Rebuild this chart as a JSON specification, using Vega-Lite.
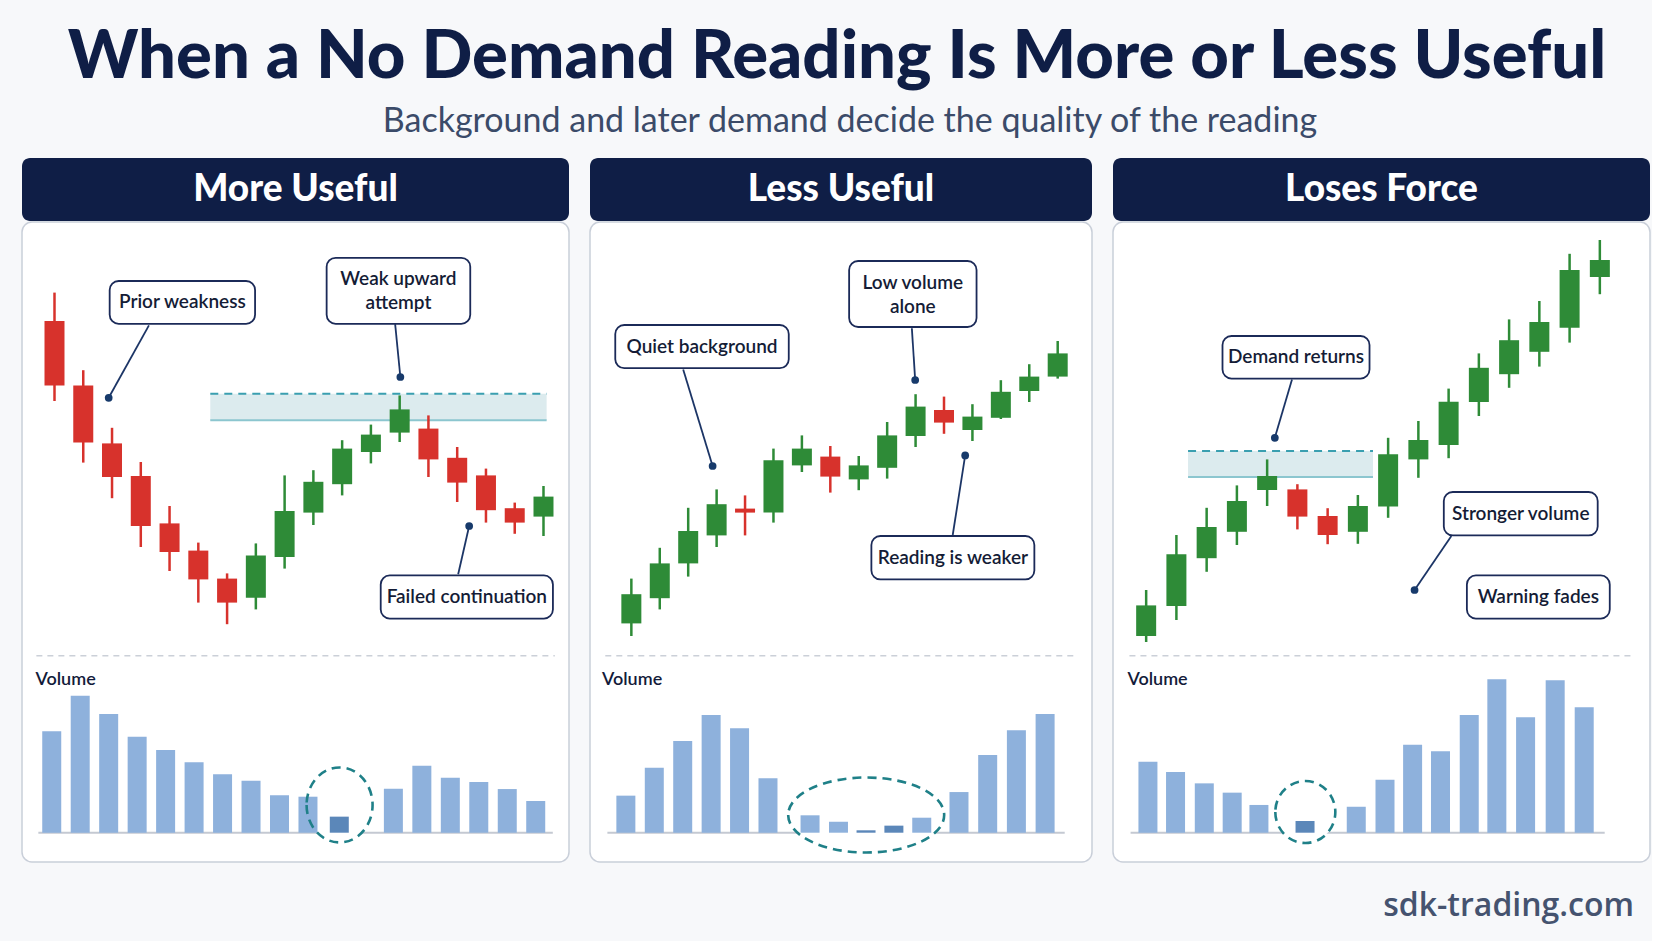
{
"$schema": "https://vega.github.io/schema/vega-lite/v6.json",
"background": "#f7f8fa",
"padding": {"left": 21, "top": 0, "right": 0, "bottom": 0},
"config": {"view": {"stroke": null}},
"datasets": {
  "c1": [
    {"i":0,"o":120,"h":127.1,"l":100,"c":103.9},
    {"i":1,"o":103.9,"h":107.7,"l":84.6,"c":89.6},
    {"i":2,"o":89.4,"h":93.3,"l":75.7,"c":81},
    {"i":3,"o":81.25,"h":84.75,"l":63.5,"c":68.75},
    {"i":4,"o":69.4,"h":73.75,"l":57.5,"c":62.25},
    {"i":5,"o":62.6,"h":64.6,"l":49.6,"c":55.4},
    {"i":6,"o":55.6,"h":56.9,"l":44.2,"c":49.6},
    {"i":7,"o":50.8,"h":64.4,"l":47.9,"c":61.4},
    {"i":8,"o":61,"h":81.4,"l":58.1,"c":72.5},
    {"i":9,"o":72.1,"h":82.7,"l":69,"c":79.8},
    {"i":10,"o":79.2,"h":90.2,"l":76.4,"c":88.1},
    {"i":11,"o":87.25,"h":94.1,"l":84.4,"c":91.6},
    {"i":12,"o":92.1,"h":101.4,"l":89.75,"c":97.9},
    {"i":13,"o":93.1,"h":96.4,"l":81,"c":85.4},
    {"i":14,"o":85.8,"h":88.5,"l":74.75,"c":79.6},
    {"i":15,"o":81.4,"h":83.1,"l":69.6,"c":72.7},
    {"i":16,"o":73.2,"h":74.6,"l":66.8,"c":69.6},
    {"i":17,"o":71.1,"h":78.75,"l":66.25,"c":76.1}
  ],
  "n1": [
    {"note":"Prior weakness","bx1":1.918,"bx2":6.973,"by1":130,"by2":119.3,"tx":4.445,"ty":124.65,"lx":3.283,"ly":118.9,"px":1.884,"py":100.8},
    {"note":"Weak upward\nattempt","bx1":9.461,"bx2":14.454,"by1":135.8,"by2":119.3,"tx":11.957,"ty":130.4,"lx":11.843,"ly":119.2,"px":12.024,"py":106},
    {"note":"Failed continuation","bx1":11.341,"bx2":17.328,"by1":56.4,"by2":45.6,"tx":14.334,"ty":51,"lx":14.034,"ly":56.7,"px":14.416,"py":68.75}
  ],
  "z1": [{"x1":5.416,"x2":17.109,"top":101.8,"bottom":95.2}],
  "v1": [
    {"k":0,"v":67.6},{"k":1,"v":91.3},{"k":2,"v":79.1},{"k":3,"v":64},{"k":4,"v":55.1},
    {"k":5,"v":46.9},{"k":6,"v":38.9},{"k":7,"v":34.7},{"k":8,"v":24.9},{"k":9,"v":24},
    {"k":10.1,"v":10.7,"nd":true},{"k":12,"v":29.3},{"k":13,"v":44.7},{"k":14,"v":36.7},
    {"k":15,"v":33.8},{"k":16,"v":29.1},{"k":17,"v":21.1}
  ],
  "c2": [
    {"i":0,"o":44.4,"h":55.6,"l":41.25,"c":51.7},
    {"i":1,"o":50.7,"h":63.3,"l":47.9,"c":59.4},
    {"i":2,"o":59.4,"h":73.3,"l":56.1,"c":67.5},
    {"i":3,"o":66.4,"h":77.9,"l":63.5,"c":74.2},
    {"i":4,"o":73.1,"h":76.4,"l":66.4,"c":72.1},
    {"i":5,"o":72.1,"h":88.1,"l":69.6,"c":85.2},
    {"i":6,"o":83.9,"h":91.4,"l":82.25,"c":88.1},
    {"i":7,"o":86.1,"h":88.75,"l":77.1,"c":81.1},
    {"i":8,"o":80.4,"h":86.25,"l":77.7,"c":83.9},
    {"i":9,"o":83.3,"h":94.75,"l":80.6,"c":91.4},
    {"i":10,"o":91.25,"h":101.7,"l":88.5,"c":98.6},
    {"i":11,"o":97.75,"h":101.1,"l":91.8,"c":94.6},
    {"i":12,"o":92.75,"h":99.2,"l":90,"c":96.1},
    {"i":13,"o":95.8,"h":105.2,"l":95.5,"c":102.3},
    {"i":14,"o":102.5,"h":109.2,"l":99.75,"c":106.1},
    {"i":15,"o":106.1,"h":115,"l":105.6,"c":111.9}
  ],
  "n2": [
    {"note":"Quiet background","bx1":-0.566,"bx2":5.538,"by1":119,"by2":108.2,"tx":2.486,"ty":113.6,"lx":1.824,"ly":107.9,"px":2.859,"py":83.75},
    {"note":"Low volume\nalone","bx1":7.662,"bx2":12.145,"by1":135,"by2":118.5,"tx":9.903,"ty":129.6,"lx":9.869,"ly":118.2,"px":9.986,"py":105.25},
    {"note":"Reading is weaker","bx1":8.445,"bx2":14.179,"by1":66.25,"by2":55.4,"tx":11.312,"ty":60.8,"lx":11.307,"ly":66.5,"px":11.745,"py":86.4}
  ],
  "v2": [
    {"k":0,"v":24.7},{"k":1,"v":43.3},{"k":2,"v":61.1},{"k":3,"v":78.5},{"k":4,"v":69.6},
    {"k":5,"v":36.3},{"k":6.48,"v":11.6},{"k":7.48,"v":7.3},{"k":8.45,"v":1.6,"nd":true},
    {"k":9.43,"v":4.7,"nd":true},{"k":10.41,"v":10},{"k":11.72,"v":27.1},{"k":12.73,"v":51.8},
    {"k":13.74,"v":68.3},{"k":14.75,"v":79.1}
  ],
  "c3": [
    {"i":0,"o":41.25,"h":52.75,"l":39.75,"c":48.9},
    {"i":1,"o":48.75,"h":66.5,"l":45.25,"c":61.7},
    {"i":2,"o":60.7,"h":73.3,"l":57.3,"c":68.5},
    {"i":3,"o":67.3,"h":78.9,"l":64,"c":75},
    {"i":4,"o":77.75,"h":85.4,"l":73.75,"c":81.25},
    {"i":5,"o":77.9,"h":79.2,"l":67.9,"c":71.1},
    {"i":6,"o":71.25,"h":73.2,"l":64.2,"c":66.5},
    {"i":7,"o":67.3,"h":76.5,"l":64.3,"c":73.75},
    {"i":8,"o":73.6,"h":90.8,"l":70.8,"c":86.7},
    {"i":9,"o":85.4,"h":95,"l":80.8,"c":90.25},
    {"i":10,"o":89,"h":103.1,"l":85.7,"c":99.8},
    {"i":11,"o":99.75,"h":111.9,"l":96.25,"c":108.3},
    {"i":12,"o":106.7,"h":120.4,"l":103.3,"c":115.2},
    {"i":13,"o":112.3,"h":125,"l":108.6,"c":119.75},
    {"i":14,"o":118.3,"h":136.8,"l":114.6,"c":132.75},
    {"i":15,"o":131,"h":140.25,"l":126.7,"c":135.25}
  ],
  "n3": [
    {"note":"Demand returns","bx1":2.524,"bx2":7.385,"by1":116.25,"by2":105.6,"tx":4.955,"ty":110.9,"lx":4.822,"ly":105.4,"px":4.254,"py":90.8},
    {"note":"Stronger volume","bx1":9.841,"bx2":14.929,"by1":77.25,"by2":66.4,"tx":12.385,"ty":71.8,"lx":10.091,"ly":66.25,"px":8.874,"py":52.75},
    {"note":"Warning fades","bx1":10.604,"bx2":15.328,"by1":56.4,"by2":45.6,"tx":12.966,"ty":51,"lx":null,"ly":null,"px":null,"py":null}
  ],
  "z3": [{"x1":1.385,"x2":7.5,"top":87.5,"bottom":81}],
  "v3": [
    {"k":0,"v":47.3},{"k":0.97,"v":40.5},{"k":1.98,"v":32.9},{"k":2.96,"v":26.7},{"k":3.9,"v":18.5},
    {"k":5.52,"v":7.8,"nd":true},{"k":7.32,"v":17.3},{"k":8.33,"v":35.3},{"k":9.3,"v":58.7},
    {"k":10.28,"v":54.3},{"k":11.29,"v":78.5},{"k":12.26,"v":102.3},{"k":13.27,"v":76.9},
    {"k":14.31,"v":101.6},{"k":15.33,"v":83.6}
  ]
},
"spacing": 0,
"vconcat": [
 {
  "width": 1630, "height": 158,
  "layer": [
   {"data": {"values": [{"t": "When a No Demand Reading Is More or Less Useful"}]},
    "mark": {"type": "text", "font": "Lato", "fontSize": 67, "fontWeight": 900, "color": "#0f1e46", "baseline": "alphabetic", "dy": -1},
    "encoding": {"text": {"field": "t"}}},
   {"data": {"values": [{"t": "Background and later demand decide the quality of the reading"}]},
    "mark": {"type": "text", "font": "Lato", "fontSize": 34, "fontWeight": 400, "color": "#3b4b69", "baseline": "alphabetic", "dy": 53, "dx": 13},
    "encoding": {"text": {"field": "t"}}}
  ]
 },
 {
  "spacing": 19,
  "hconcat": [
   {
    "spacing": 0,
    "vconcat": [
     {
      "width": 547, "height": 63,
      "view": {"fill": "#0f1e46", "stroke": null, "cornerRadius": 8},
      "data": {"values": [{"panel": "More Useful"}]},
      "mark": {"type": "text", "font": "Lato", "fontSize": 37, "fontWeight": 900, "color": "white", "baseline": "middle"},
      "encoding": {"text": {"field": "panel"}}
     },
     {
      "width": 547, "height": 640,
      "view": {"fill": "white", "stroke": "#c9cfd9", "strokeWidth": 1.5, "cornerRadius": 10},
      "resolve": {"scale": {"x": "independent", "y": "independent"}},
      "layer": [
       {
        "layer": [
         {"data": {"name": "z1"}, "mark": {"type": "rect", "color": "#dcebee", "opacity": 1},
          "encoding": {"x": {"field": "x1", "type": "quantitative", "scale": {"domain": [-0.956, 17.713], "nice": false, "zero": false}, "axis": null}, "x2": {"field": "x2"},
                       "y": {"field": "top", "type": "quantitative", "scale": {"domain": [-15.25, 144.75], "nice": false, "zero": false}, "axis": null}, "y2": {"field": "bottom"}}},
         {"data": {"name": "z1"}, "mark": {"type": "rule", "color": "#3a9fb0", "strokeWidth": 2, "strokeDash": [8, 6]},
          "encoding": {"x": {"field": "x1", "type": "quantitative", "scale": {"domain": [-0.956, 17.713], "nice": false, "zero": false}, "axis": null}, "x2": {"field": "x2"},
                       "y": {"field": "top", "type": "quantitative", "scale": {"domain": [-15.25, 144.75], "nice": false, "zero": false}, "axis": null}}},
         {"data": {"name": "z1"}, "mark": {"type": "rule", "color": "#8cc6cf", "strokeWidth": 2},
          "encoding": {"x": {"field": "x1", "type": "quantitative", "scale": {"domain": [-0.956, 17.713], "nice": false, "zero": false}, "axis": null}, "x2": {"field": "x2"},
                       "y": {"field": "bottom", "type": "quantitative", "scale": {"domain": [-15.25, 144.75], "nice": false, "zero": false}, "axis": null}}},
         {"data": {"name": "c1"}, "mark": {"type": "rule", "strokeWidth": 2.5},
          "encoding": {"x": {"field": "i", "type": "quantitative", "scale": {"domain": [-0.956, 17.713], "nice": false, "zero": false}, "axis": null},
                       "y": {"field": "l", "type": "quantitative", "scale": {"domain": [-15.25, 144.75], "nice": false, "zero": false}, "axis": null}, "y2": {"field": "h"},
                       "color": {"condition": {"test": "datum.c < datum.o", "value": "#d7322c"}, "value": "#2e8b37"}}},
         {"data": {"name": "c1"}, "mark": {"type": "bar", "width": 20},
          "encoding": {"x": {"field": "i", "type": "quantitative", "scale": {"domain": [-0.956, 17.713], "nice": false, "zero": false}, "axis": null},
                       "y": {"field": "o", "type": "quantitative", "scale": {"domain": [-15.25, 144.75], "nice": false, "zero": false}, "axis": null}, "y2": {"field": "c"},
                       "color": {"condition": {"test": "datum.c < datum.o", "value": "#d7322c"}, "value": "#2e8b37"}}},
         {"data": {"name": "n1"}, "mark": {"type": "rule", "color": "#1c3566", "strokeWidth": 1.8},
          "encoding": {"x": {"field": "lx", "type": "quantitative", "scale": {"domain": [-0.956, 17.713], "nice": false, "zero": false}, "axis": null}, "x2": {"field": "px"},
                       "y": {"field": "ly", "type": "quantitative", "scale": {"domain": [-15.25, 144.75], "nice": false, "zero": false}, "axis": null}, "y2": {"field": "py"}}},
         {"data": {"name": "n1"}, "mark": {"type": "point", "filled": true, "color": "#173a6b", "size": 60, "opacity": 1},
          "encoding": {"x": {"field": "px", "type": "quantitative", "scale": {"domain": [-0.956, 17.713], "nice": false, "zero": false}, "axis": null},
                       "y": {"field": "py", "type": "quantitative", "scale": {"domain": [-15.25, 144.75], "nice": false, "zero": false}, "axis": null}}},
         {"data": {"name": "n1"}, "mark": {"type": "rect", "fill": "white", "stroke": "#1b2a58", "strokeWidth": 1.8, "cornerRadius": 9},
          "encoding": {"x": {"field": "bx1", "type": "quantitative", "scale": {"domain": [-0.956, 17.713], "nice": false, "zero": false}, "axis": null}, "x2": {"field": "bx2"},
                       "y": {"field": "by1", "type": "quantitative", "scale": {"domain": [-15.25, 144.75], "nice": false, "zero": false}, "axis": null}, "y2": {"field": "by2"}}},
         {"data": {"name": "n1"}, "mark": {"type": "text", "font": "Lato", "fontSize": 19, "fontWeight": 600, "color": "#141c36", "align": "center", "baseline": "middle", "lineBreak": "\n", "lineHeight": 24},
          "encoding": {"x": {"field": "tx", "type": "quantitative", "scale": {"domain": [-0.956, 17.713], "nice": false, "zero": false}, "axis": null},
                       "y": {"field": "ty", "type": "quantitative", "scale": {"domain": [-15.25, 144.75], "nice": false, "zero": false}, "axis": null},
                       "text": {"field": "note"}}}
        ]
       },
       {
        "layer": [
         {"data": {"values": [{}]}, "mark": {"type": "rule", "color": "#cbd0d8", "strokeWidth": 1.5, "strokeDash": [6, 5]},
          "encoding": {"x": {"datum": -0.54, "type": "quantitative", "scale": {"domain": [-0.869, 17.993], "nice": false, "zero": false}, "axis": null}, "x2": {"datum": 17.67},
                       "y": {"datum": 118, "type": "quantitative", "scale": {"domain": [-19.53, 407.13], "nice": false, "zero": false}, "axis": null}}},
         {"data": {"values": [{"label": "Volume"}]}, "mark": {"type": "text", "align": "left", "baseline": "middle", "font": "Lato", "fontSize": 18, "fontWeight": 600, "color": "#131b3a"},
          "encoding": {"x": {"datum": -0.57, "type": "quantitative", "scale": {"domain": [-0.869, 17.993], "nice": false, "zero": false}, "axis": null},
                       "y": {"datum": 102, "type": "quantitative", "scale": {"domain": [-19.53, 407.13], "nice": false, "zero": false}, "axis": null},
                       "text": {"field": "label"}}},
         {"data": {"values": [{}]}, "mark": {"type": "rule", "color": "#c4c9d2", "strokeWidth": 2},
          "encoding": {"x": {"datum": -0.47, "type": "quantitative", "scale": {"domain": [-0.869, 17.993], "nice": false, "zero": false}, "axis": null}, "x2": {"datum": 17.6},
                       "y": {"datum": 0, "type": "quantitative", "scale": {"domain": [-19.53, 407.13], "nice": false, "zero": false}, "axis": null}}},
         {"data": {"values": [{}]}, "mark": {"type": "point", "shape": "M-0.88,0A0.88,1 0 1,0 0.88,0A0.88,1 0 1,0 -0.88,0Z", "size": 5625, "filled": true, "color": "white", "opacity": 1},
          "encoding": {"x": {"datum": 10.11, "type": "quantitative", "scale": {"domain": [-0.869, 17.993], "nice": false, "zero": false}, "axis": null},
                       "y": {"datum": 18.5, "type": "quantitative", "scale": {"domain": [-19.53, 407.13], "nice": false, "zero": false}, "axis": null}}},
         {"data": {"name": "v1"}, "mark": {"type": "bar", "width": 19},
          "encoding": {"x": {"field": "k", "type": "quantitative", "scale": {"domain": [-0.869, 17.993], "nice": false, "zero": false}, "axis": null},
                       "y": {"field": "v", "type": "quantitative", "scale": {"domain": [-19.53, 407.13], "nice": false, "zero": false}, "axis": null}, "y2": {"datum": 0},
                       "color": {"condition": {"test": "datum.nd", "value": "#5b87b9"}, "value": "#8eb1dc"}}},
         {"data": {"values": [{}]}, "mark": {"type": "point", "shape": "M-0.88,0A0.88,1 0 1,0 0.88,0A0.88,1 0 1,0 -0.88,0Z", "size": 5625, "filled": false, "color": "#1f8088", "strokeWidth": 2.6, "strokeDash": [9, 6], "opacity": 1},
          "encoding": {"x": {"datum": 10.11, "type": "quantitative", "scale": {"domain": [-0.869, 17.993], "nice": false, "zero": false}, "axis": null},
                       "y": {"datum": 18.5, "type": "quantitative", "scale": {"domain": [-19.53, 407.13], "nice": false, "zero": false}, "axis": null}}}
        ]
       }
      ]
     }
    ]
   },
   {
    "spacing": 0,
    "vconcat": [
     {
      "width": 502, "height": 63,
      "view": {"fill": "#0f1e46", "stroke": null, "cornerRadius": 8},
      "data": {"values": [{"panel": "Less Useful"}]},
      "mark": {"type": "text", "font": "Lato", "fontSize": 37, "fontWeight": 900, "color": "white", "baseline": "middle"},
      "encoding": {"text": {"field": "panel"}}
     },
     {
      "width": 502, "height": 640,
      "view": {"fill": "white", "stroke": "#c9cfd9", "strokeWidth": 1.5, "cornerRadius": 10},
      "resolve": {"scale": {"x": "independent", "y": "independent"}},
      "layer": [
       {
        "layer": [
         {"data": {"name": "c2"}, "mark": {"type": "rule", "strokeWidth": 2.5},
          "encoding": {"x": {"field": "i", "type": "quantitative", "scale": {"domain": [-1.279, 16.031], "nice": false, "zero": false}, "axis": null},
                       "y": {"field": "l", "type": "quantitative", "scale": {"domain": [-15.25, 144.75], "nice": false, "zero": false}, "axis": null}, "y2": {"field": "h"},
                       "color": {"condition": {"test": "datum.c < datum.o", "value": "#d7322c"}, "value": "#2e8b37"}}},
         {"data": {"name": "c2"}, "mark": {"type": "bar", "width": 20},
          "encoding": {"x": {"field": "i", "type": "quantitative", "scale": {"domain": [-1.279, 16.031], "nice": false, "zero": false}, "axis": null},
                       "y": {"field": "o", "type": "quantitative", "scale": {"domain": [-15.25, 144.75], "nice": false, "zero": false}, "axis": null}, "y2": {"field": "c"},
                       "color": {"condition": {"test": "datum.c < datum.o", "value": "#d7322c"}, "value": "#2e8b37"}}},
         {"data": {"name": "n2"}, "mark": {"type": "rule", "color": "#1c3566", "strokeWidth": 1.8},
          "encoding": {"x": {"field": "lx", "type": "quantitative", "scale": {"domain": [-1.279, 16.031], "nice": false, "zero": false}, "axis": null}, "x2": {"field": "px"},
                       "y": {"field": "ly", "type": "quantitative", "scale": {"domain": [-15.25, 144.75], "nice": false, "zero": false}, "axis": null}, "y2": {"field": "py"}}},
         {"data": {"name": "n2"}, "mark": {"type": "point", "filled": true, "color": "#173a6b", "size": 60, "opacity": 1},
          "encoding": {"x": {"field": "px", "type": "quantitative", "scale": {"domain": [-1.279, 16.031], "nice": false, "zero": false}, "axis": null},
                       "y": {"field": "py", "type": "quantitative", "scale": {"domain": [-15.25, 144.75], "nice": false, "zero": false}, "axis": null}}},
         {"data": {"name": "n2"}, "mark": {"type": "rect", "fill": "white", "stroke": "#1b2a58", "strokeWidth": 1.8, "cornerRadius": 9},
          "encoding": {"x": {"field": "bx1", "type": "quantitative", "scale": {"domain": [-1.279, 16.031], "nice": false, "zero": false}, "axis": null}, "x2": {"field": "bx2"},
                       "y": {"field": "by1", "type": "quantitative", "scale": {"domain": [-15.25, 144.75], "nice": false, "zero": false}, "axis": null}, "y2": {"field": "by2"}}},
         {"data": {"name": "n2"}, "mark": {"type": "text", "font": "Lato", "fontSize": 19, "fontWeight": 600, "color": "#141c36", "align": "center", "baseline": "middle", "lineBreak": "\n", "lineHeight": 24},
          "encoding": {"x": {"field": "tx", "type": "quantitative", "scale": {"domain": [-1.279, 16.031], "nice": false, "zero": false}, "axis": null},
                       "y": {"field": "ty", "type": "quantitative", "scale": {"domain": [-15.25, 144.75], "nice": false, "zero": false}, "axis": null},
                       "text": {"field": "note"}}}
        ]
       },
       {
        "layer": [
         {"data": {"values": [{}]}, "mark": {"type": "rule", "color": "#cbd0d8", "strokeWidth": 1.5, "strokeDash": [6, 5]},
          "encoding": {"x": {"datum": -0.724, "type": "quantitative", "scale": {"domain": [-1.086, 16.224], "nice": false, "zero": false}, "axis": null}, "x2": {"datum": 15.76},
                       "y": {"datum": 118, "type": "quantitative", "scale": {"domain": [-19.53, 407.13], "nice": false, "zero": false}, "axis": null}}},
         {"data": {"values": [{"label": "Volume"}]}, "mark": {"type": "text", "align": "left", "baseline": "middle", "font": "Lato", "fontSize": 18, "fontWeight": 600, "color": "#131b3a"},
          "encoding": {"x": {"datum": -0.84, "type": "quantitative", "scale": {"domain": [-1.086, 16.224], "nice": false, "zero": false}, "axis": null},
                       "y": {"datum": 102, "type": "quantitative", "scale": {"domain": [-19.53, 407.13], "nice": false, "zero": false}, "axis": null},
                       "text": {"field": "label"}}},
         {"data": {"values": [{}]}, "mark": {"type": "rule", "color": "#c4c9d2", "strokeWidth": 2},
          "encoding": {"x": {"datum": -0.65, "type": "quantitative", "scale": {"domain": [-1.086, 16.224], "nice": false, "zero": false}, "axis": null}, "x2": {"datum": 15.44},
                       "y": {"datum": 0, "type": "quantitative", "scale": {"domain": [-19.53, 407.13], "nice": false, "zero": false}, "axis": null}}},
         {"data": {"values": [{}]}, "mark": {"type": "point", "shape": "M-2.08,0A2.08,1 0 1,0 2.08,0A2.08,1 0 1,0 -2.08,0Z", "size": 5625, "filled": true, "color": "white", "opacity": 1},
          "encoding": {"x": {"datum": 8.455, "type": "quantitative", "scale": {"domain": [-1.086, 16.224], "nice": false, "zero": false}, "axis": null},
                       "y": {"datum": 11.8, "type": "quantitative", "scale": {"domain": [-19.53, 407.13], "nice": false, "zero": false}, "axis": null}}},
         {"data": {"name": "v2"}, "mark": {"type": "bar", "width": 19},
          "encoding": {"x": {"field": "k", "type": "quantitative", "scale": {"domain": [-1.086, 16.224], "nice": false, "zero": false}, "axis": null},
                       "y": {"field": "v", "type": "quantitative", "scale": {"domain": [-19.53, 407.13], "nice": false, "zero": false}, "axis": null}, "y2": {"datum": 0},
                       "color": {"condition": {"test": "datum.nd", "value": "#5b87b9"}, "value": "#8eb1dc"}}},
         {"data": {"values": [{}]}, "mark": {"type": "point", "shape": "M-2.08,0A2.08,1 0 1,0 2.08,0A2.08,1 0 1,0 -2.08,0Z", "size": 5625, "filled": false, "color": "#1f8088", "strokeWidth": 2.6, "strokeDash": [9, 6], "opacity": 1},
          "encoding": {"x": {"datum": 8.455, "type": "quantitative", "scale": {"domain": [-1.086, 16.224], "nice": false, "zero": false}, "axis": null},
                       "y": {"datum": 11.8, "type": "quantitative", "scale": {"domain": [-19.53, 407.13], "nice": false, "zero": false}, "axis": null}}}
        ]
       }
      ]
     }
    ]
   },
   {
    "spacing": 0,
    "vconcat": [
     {
      "width": 537, "height": 63,
      "view": {"fill": "#0f1e46", "stroke": null, "cornerRadius": 8},
      "data": {"values": [{"panel": "Loses Force"}]},
      "mark": {"type": "text", "font": "Lato", "fontSize": 37, "fontWeight": 900, "color": "white", "baseline": "middle"},
      "encoding": {"text": {"field": "panel"}}
     },
     {
      "width": 537, "height": 640,
      "view": {"fill": "white", "stroke": "#c9cfd9", "strokeWidth": 1.5, "cornerRadius": 10},
      "resolve": {"scale": {"x": "independent", "y": "independent"}},
      "layer": [
       {
        "layer": [
         {"data": {"name": "z3"}, "mark": {"type": "rect", "color": "#dcebee", "opacity": 1},
          "encoding": {"x": {"field": "x1", "type": "quantitative", "scale": {"domain": [-0.931, 16.493], "nice": false, "zero": false}, "axis": null}, "x2": {"field": "x2"},
                       "y": {"field": "top", "type": "quantitative", "scale": {"domain": [-15.25, 144.75], "nice": false, "zero": false}, "axis": null}, "y2": {"field": "bottom"}}},
         {"data": {"name": "z3"}, "mark": {"type": "rule", "color": "#3a9fb0", "strokeWidth": 2, "strokeDash": [8, 6]},
          "encoding": {"x": {"field": "x1", "type": "quantitative", "scale": {"domain": [-0.931, 16.493], "nice": false, "zero": false}, "axis": null}, "x2": {"field": "x2"},
                       "y": {"field": "top", "type": "quantitative", "scale": {"domain": [-15.25, 144.75], "nice": false, "zero": false}, "axis": null}}},
         {"data": {"name": "z3"}, "mark": {"type": "rule", "color": "#8cc6cf", "strokeWidth": 2},
          "encoding": {"x": {"field": "x1", "type": "quantitative", "scale": {"domain": [-0.931, 16.493], "nice": false, "zero": false}, "axis": null}, "x2": {"field": "x2"},
                       "y": {"field": "bottom", "type": "quantitative", "scale": {"domain": [-15.25, 144.75], "nice": false, "zero": false}, "axis": null}}},
         {"data": {"name": "c3"}, "mark": {"type": "rule", "strokeWidth": 2.5},
          "encoding": {"x": {"field": "i", "type": "quantitative", "scale": {"domain": [-0.931, 16.493], "nice": false, "zero": false}, "axis": null},
                       "y": {"field": "l", "type": "quantitative", "scale": {"domain": [-15.25, 144.75], "nice": false, "zero": false}, "axis": null}, "y2": {"field": "h"},
                       "color": {"condition": {"test": "datum.c < datum.o", "value": "#d7322c"}, "value": "#2e8b37"}}},
         {"data": {"name": "c3"}, "mark": {"type": "bar", "width": 20},
          "encoding": {"x": {"field": "i", "type": "quantitative", "scale": {"domain": [-0.931, 16.493], "nice": false, "zero": false}, "axis": null},
                       "y": {"field": "o", "type": "quantitative", "scale": {"domain": [-15.25, 144.75], "nice": false, "zero": false}, "axis": null}, "y2": {"field": "c"},
                       "color": {"condition": {"test": "datum.c < datum.o", "value": "#d7322c"}, "value": "#2e8b37"}}},
         {"data": {"name": "n3"}, "mark": {"type": "rule", "color": "#1c3566", "strokeWidth": 1.8},
          "encoding": {"x": {"field": "lx", "type": "quantitative", "scale": {"domain": [-0.931, 16.493], "nice": false, "zero": false}, "axis": null}, "x2": {"field": "px"},
                       "y": {"field": "ly", "type": "quantitative", "scale": {"domain": [-15.25, 144.75], "nice": false, "zero": false}, "axis": null}, "y2": {"field": "py"}}},
         {"data": {"name": "n3"}, "mark": {"type": "point", "filled": true, "color": "#173a6b", "size": 60, "opacity": 1},
          "encoding": {"x": {"field": "px", "type": "quantitative", "scale": {"domain": [-0.931, 16.493], "nice": false, "zero": false}, "axis": null},
                       "y": {"field": "py", "type": "quantitative", "scale": {"domain": [-15.25, 144.75], "nice": false, "zero": false}, "axis": null}}},
         {"data": {"name": "n3"}, "mark": {"type": "rect", "fill": "white", "stroke": "#1b2a58", "strokeWidth": 1.8, "cornerRadius": 9},
          "encoding": {"x": {"field": "bx1", "type": "quantitative", "scale": {"domain": [-0.931, 16.493], "nice": false, "zero": false}, "axis": null}, "x2": {"field": "bx2"},
                       "y": {"field": "by1", "type": "quantitative", "scale": {"domain": [-15.25, 144.75], "nice": false, "zero": false}, "axis": null}, "y2": {"field": "by2"}}},
         {"data": {"name": "n3"}, "mark": {"type": "text", "font": "Lato", "fontSize": 19, "fontWeight": 600, "color": "#141c36", "align": "center", "baseline": "middle", "lineBreak": "\n", "lineHeight": 24},
          "encoding": {"x": {"field": "tx", "type": "quantitative", "scale": {"domain": [-0.931, 16.493], "nice": false, "zero": false}, "axis": null},
                       "y": {"field": "ty", "type": "quantitative", "scale": {"domain": [-15.25, 144.75], "nice": false, "zero": false}, "axis": null},
                       "text": {"field": "note"}}}
        ]
       },
       {
        "layer": [
         {"data": {"values": [{}]}, "mark": {"type": "rule", "color": "#cbd0d8", "strokeWidth": 1.5, "strokeDash": [6, 5]},
          "encoding": {"x": {"datum": -0.65, "type": "quantitative", "scale": {"domain": [-1.052, 17.466], "nice": false, "zero": false}, "axis": null}, "x2": {"datum": 17.06},
                       "y": {"datum": 118, "type": "quantitative", "scale": {"domain": [-19.53, 407.13], "nice": false, "zero": false}, "axis": null}}},
         {"data": {"values": [{"label": "Volume"}]}, "mark": {"type": "text", "align": "left", "baseline": "middle", "font": "Lato", "fontSize": 18, "fontWeight": 600, "color": "#131b3a"},
          "encoding": {"x": {"datum": -0.72, "type": "quantitative", "scale": {"domain": [-1.052, 17.466], "nice": false, "zero": false}, "axis": null},
                       "y": {"datum": 102, "type": "quantitative", "scale": {"domain": [-19.53, 407.13], "nice": false, "zero": false}, "axis": null},
                       "text": {"field": "label"}}},
         {"data": {"values": [{}]}, "mark": {"type": "rule", "color": "#c4c9d2", "strokeWidth": 2},
          "encoding": {"x": {"datum": -0.61, "type": "quantitative", "scale": {"domain": [-1.052, 17.466], "nice": false, "zero": false}, "axis": null}, "x2": {"datum": 16.05},
                       "y": {"datum": 0, "type": "quantitative", "scale": {"domain": [-19.53, 407.13], "nice": false, "zero": false}, "axis": null}}},
         {"data": {"values": [{}]}, "mark": {"type": "point", "shape": "M-0.968,0A0.968,1 0 1,0 0.968,0A0.968,1 0 1,0 -0.968,0Z", "size": 3844, "filled": true, "color": "white", "opacity": 1},
          "encoding": {"x": {"datum": 5.53, "type": "quantitative", "scale": {"domain": [-1.052, 17.466], "nice": false, "zero": false}, "axis": null},
                       "y": {"datum": 13.8, "type": "quantitative", "scale": {"domain": [-19.53, 407.13], "nice": false, "zero": false}, "axis": null}}},
         {"data": {"name": "v3"}, "mark": {"type": "bar", "width": 19},
          "encoding": {"x": {"field": "k", "type": "quantitative", "scale": {"domain": [-1.052, 17.466], "nice": false, "zero": false}, "axis": null},
                       "y": {"field": "v", "type": "quantitative", "scale": {"domain": [-19.53, 407.13], "nice": false, "zero": false}, "axis": null}, "y2": {"datum": 0},
                       "color": {"condition": {"test": "datum.nd", "value": "#5b87b9"}, "value": "#8eb1dc"}}},
         {"data": {"values": [{}]}, "mark": {"type": "point", "shape": "M-0.968,0A0.968,1 0 1,0 0.968,0A0.968,1 0 1,0 -0.968,0Z", "size": 3844, "filled": false, "color": "#1f8088", "strokeWidth": 2.6, "strokeDash": [9, 6], "opacity": 1},
          "encoding": {"x": {"datum": 5.53, "type": "quantitative", "scale": {"domain": [-1.052, 17.466], "nice": false, "zero": false}, "axis": null},
                       "y": {"datum": 13.8, "type": "quantitative", "scale": {"domain": [-19.53, 407.13], "nice": false, "zero": false}, "axis": null}}}
        ]
       }
      ]
     }
    ]
   }
  ]
 },
 {
  "width": 1612, "height": 80,
  "data": {"values": [{"site": "sdk-trading.com"}]},
  "mark": {"type": "text", "align": "right", "baseline": "alphabetic", "dy": 13, "font": "Open Sans", "fontSize": 32, "fontWeight": 600, "color": "#45536f"},
  "encoding": {"text": {"field": "site"}, "x": {"datum": 1, "type": "quantitative", "scale": {"domain": [0, 1]}, "axis": null}}
 }
]
}
